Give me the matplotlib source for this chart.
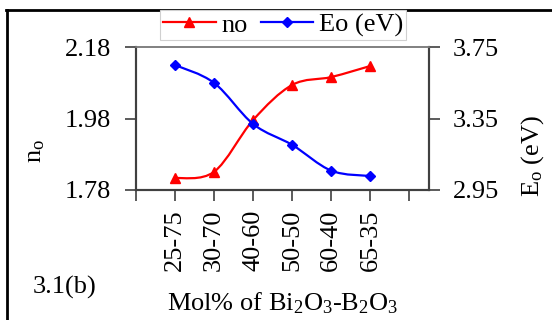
import matplotlib
matplotlib.use("Agg")
import matplotlib.pyplot as plt
import numpy as np
from matplotlib.path import Path
from matplotlib.patches import PathPatch
from matplotlib.lines import Line2D

plt.rcParams['font.family'] = ['Liberation Serif', 'DejaVu Serif']
plt.rcParams['mathtext.fontset'] = 'custom'
plt.rcParams['mathtext.rm'] = 'Liberation Serif'
plt.rcParams['mathtext.it'] = 'Liberation Serif:italic'
plt.rcParams['mathtext.default'] = 'regular'

# composition labels and measured values
categorias = ['25-75', '30-70', '40-60', '50-50', '60-40', '65-35']
n_o = [1.813, 1.831, 1.976, 2.074, 2.096, 2.127]
E_o = [3.649, 3.549, 3.319, 3.202, 3.058, 3.028]
ticks_esq = [1.78, 1.98, 2.18]
ticks_dir = [2.95, 3.35, 3.75]

FS = 19


def curva_suave(ax, xs, ys, cor):
    # Catmull-Rom -> Bezier cubica (linha suavizada estilo Excel)
    pts = np.column_stack([xs, ys])
    verts = [pts[0]]
    codes = [Path.MOVETO]
    for i in range(len(pts) - 1):
        p0 = pts[i - 1] if i > 0 else pts[i]
        p1 = pts[i]
        p2 = pts[i + 1]
        p3 = pts[i + 2] if i + 2 < len(pts) else pts[i + 1]
        c1 = p1 + (p2 - p0) / 6.0
        c2 = p2 - (p3 - p1) / 6.0
        verts += [c1, c2, p2]
        codes += [Path.CURVE4] * 3
    ax.add_patch(PathPatch(Path(verts, codes), facecolor='none',
                           edgecolor=cor, lw=1.6, zorder=3))


fig = plt.figure(figsize=(5.52, 3.2), dpi=100)
ax = fig.add_axes([136 / 552, 1 - 190 / 320, 293 / 552, 143 / 320])
ax2 = ax.twinx()

x = np.arange(1, len(categorias) + 1)

curva_suave(ax, x, n_o, 'red')
ax.plot(x, n_o, ls='none', marker='^', ms=6.5, color='red', zorder=4)
curva_suave(ax2, x, E_o, 'blue')
ax2.plot(x, E_o, ls='none', marker='D', ms=5, color='blue', zorder=4)

ax.set_xlim(0, 7.5)
ax.set_ylim(1.78, 2.18)
ax2.set_ylim(2.95, 3.75)
ax.set_xticks(np.arange(0, 8))
ax.set_xticklabels([''] + categorias + [''], rotation=90, fontsize=FS)
ax.set_yticks(ticks_esq)
ax.set_yticklabels([f'{v:.2f}' for v in ticks_esq], fontsize=FS)
ax2.set_yticks(ticks_dir)
ax2.set_yticklabels([f'{v:.2f}' for v in ticks_dir], fontsize=FS)

ax.tick_params(axis='x', direction='out', length=8, width=1.2, pad=6, colors='#404040', labelcolor='black')
ax.tick_params(axis='y', direction='out', length=8, width=1.2, pad=10, colors='#404040', labelcolor='black')
ax2.tick_params(axis='y', direction='out', length=8, width=1.2, pad=9, colors='#404040', labelcolor='black')

for a in (ax, ax2):
    for s in ('left', 'right', 'bottom'):
        a.spines[s].set_color('#404040')
        a.spines[s].set_linewidth(1.5)
    a.spines['top'].set_color('#808080')
    a.spines['top'].set_linewidth(1.2)

# rotulos
fig.text(36 / 552, 1 - 151 / 320, 'n$_o$', rotation=90, fontsize=FS, ha='center', va='center')
fig.text(533 / 552, 1 - 156 / 320, 'E$_o$ (eV)', rotation=90, fontsize=FS, ha='center', va='center')
fig.text(283 / 552, 1 - 303 / 320, 'Mol% of Bi$_2$O$_3$-B$_2$O$_3$', fontsize=FS, ha='center', va='center')
fig.text(65 / 552, 1 - 287 / 320, '3.1(b)', fontsize=FS, ha='center', va='center')

# legenda
handles = [Line2D([], [], color='red', lw=1.6, marker='^', ms=6.5),
           Line2D([], [], color='blue', lw=1.6, marker='D', ms=5)]
leg = fig.legend(handles, ['no', 'Eo (eV)'], loc='center', ncol=2,
                 bbox_to_anchor=(283 / 552, 1 - 25 / 320), fontsize=FS,
                 frameon=True, fancybox=False, framealpha=1,
                 handlelength=2.0, handletextpad=0.2, columnspacing=0.5,
                 borderpad=0.1, borderaxespad=0)
leg.get_frame().set_edgecolor('#d0d0d0')
leg.get_frame().set_linewidth(0.8)

# moldura (apenas esquerda e topo visiveis)
fig.add_artist(Line2D([7 / 552, 7 / 552], [0, 1 - 10 / 320], color='black', lw=2, transform=fig.transFigure))
fig.add_artist(Line2D([6 / 552, 1], [1 - 10 / 320, 1 - 10 / 320], color='black', lw=2, transform=fig.transFigure))

fig.savefig('out.png', dpi=100)
